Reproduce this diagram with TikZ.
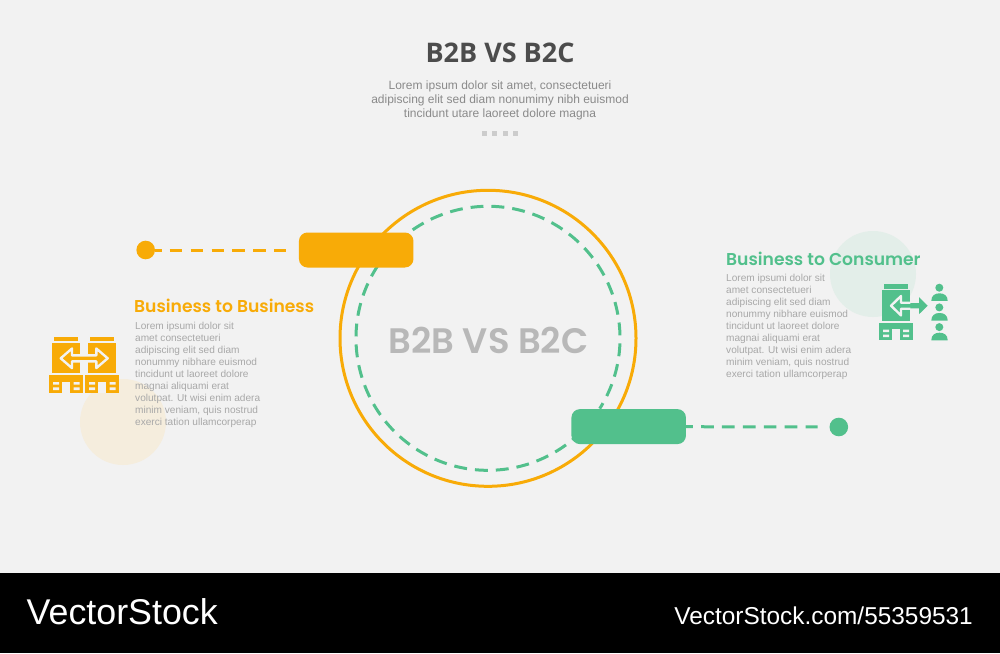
\documentclass[tikz,border=0pt]{standalone}
\usepackage{fontspec}
\setmainfont{Liberation Sans}
\newfontfamily\popp[BoldFont={Poppins SemiBold}]{Poppins}
\newfontfamily\opens{Open Sans}
\definecolor{bgc}{HTML}{F2F2F2}
\definecolor{org}{HTML}{F8AB07}
\definecolor{grn}{HTML}{52C08C}
\definecolor{orgt}{HTML}{F5EDDD}
\definecolor{grnt}{HTML}{E3EEE9}
\definecolor{bodyg}{HTML}{A8A8A8}
\definecolor{parag}{HTML}{8A8A8A}
\tikzset{
  bodytext/.style={inner sep=0pt,anchor=north west,align=left,text=bodyg,font=\fontsize{10.1}{12}\selectfont},
  headtext/.style={inner sep=0pt,anchor=west,font=\popp\bfseries\fontsize{17.15}{18}\selectfont},
  pill/.style={rounded corners=8.5pt,minimum width=114.5pt,minimum height=35pt,inner sep=0pt},
  dotn/.style={circle,inner sep=0pt,minimum size=18.6pt},
  tint/.style={circle,inner sep=0pt,minimum size=86pt},
  linkdash/.style={line width=3pt,dash pattern=on 12.7pt off 8.2pt,dash phase=6.4pt},
  ringdash/.style={line width=3pt,dash pattern=on 12.9pt off 8pt,dash phase=6.96pt},
  wm/.style={inner sep=0pt,text=white}
}
\begin{document}
\begin{tikzpicture}[x=1pt,y=-1pt]
\useasboundingbox (0,0) rectangle (1000,653);
\fill[bgc] (0,0) rectangle (1000,573);
\fill[black] (0,573) rectangle (1000,653);
% title
\node[inner sep=0pt,text=black!70,font=\opens\bfseries\fontsize{27}{30}\selectfont] (title) at (500,53) {B2B VS B2C};
\node[inner sep=0pt,align=center,text=parag,font=\fontsize{12}{14}\selectfont] (para) at (500,100) {Lorem ipsum dolor sit amet, consectetueri\\adipiscing elit sed diam nonumimy nibh euismod\\tincidunt utare laoreet dolore magna};
\foreach \i/\x in {1/484.2,2/494.5,3/505.2,4/515.5}
  \node[fill=black!20,inner sep=0pt,minimum size=5.2pt] (sq\i) at (\x,133.3) {};
% tints
\node[tint,fill=orgt] (torg) at (123,422) {};
\node[tint,fill=grnt] (tgrn) at (873,274) {};
% circles
\coordinate (cc) at (488,338.3);
\node[circle,draw=org,line width=3pt,inner sep=0pt,minimum size=296pt] (outer) at (cc) {};
\draw[grn,ringdash] ([shift={(-32:132pt)}]cc) arc[start angle=-32,delta angle=360,radius=132pt];
\node[inner sep=0pt,text=black!28,font=\popp\bfseries\fontsize{35.4}{38}\selectfont] (center) at (488.5,340) {B2B VS B2C};
% pills, dots, connectors
\node[pill,fill=org] (porg) at (356.2,250) {};
\node[pill,fill=grn] (pgrn) at (628.7,426.6) {};
\node[dotn,fill=org] (dorg) at (145.7,250) {};
\node[dotn,fill=grn] (dgrn) at (838.8,427) {};
\draw[org,linkdash,shorten >=12.7pt] (dorg) -- (porg);
\draw[grn,linkdash,dash phase=6pt,shorten >=11.7pt] (pgrn) -- (dgrn);
% left text
\node[headtext,text=org] (hl) at (134,305.5) {Business to Business};
\node[bodytext] (bl) at (135,321.5) {Lorem ipsumi dolor sit\\amet consectetueri\\adipiscing elit sed diam\\nonummy nibhare euismod\\tincidunt ut laoreet dolore\\magnai aliquami erat\\volutpat. Ut wisi enim adera\\minim veniam, quis nostrud\\exerci tation ullamcorperap};
% right text
\node[headtext,text=grn] (hr) at (726,258.5) {Business to Consumer};
\node[bodytext] (br) at (726,274) {Lorem ipsumi dolor sit\\amet consectetueri\\adipiscing elit sed diam\\nonummy nibhare euismod\\tincidunt ut laoreet dolore\\magnai aliquami erat\\volutpat. Ut wisi enim adera\\minim veniam, quis nostrud\\exerci tation ullamcorperap};
% left icon
\foreach \d in {0,36}{
  \begin{scope}[xshift=\d pt]
  \fill[org] (54,336.7) rectangle (78,341);
  \fill[org] (52,342.7) rectangle (80.3,373.3);
  \fill[org] (49.2,375.3) rectangle (83,392.7);
  \fill[bgc] (62.3,381.5) rectangle (70,392.7);
  \fill[bgc] (53,382) rectangle (59,384.6) (53,387.3) rectangle (59,390);
  \fill[bgc] (73.5,382) rectangle (79.7,384.6) (73.5,387.3) rectangle (79.7,390);
  \end{scope}
}
\draw[bgc,line width=2.4pt,fill=org,line join=round] (60.7,358.3) -- (72,348.5) -- (72,355.3) -- (96.3,355.3) -- (96.3,348.5) -- (107.7,358.3) -- (96.3,368.1) -- (96.3,361.3) -- (72,361.3) -- (72,368.1) -- cycle;
% right icon
\fill[grn] (884.3,284.3) rectangle (908.3,288.7);
\fill[grn] (882,290.3) rectangle (910.3,321);
\fill[grn] (879.3,323) rectangle (913,340);
\fill[bgc] (892,329) rectangle (900,340);
\fill[bgc] (883,329.5) rectangle (889,332.2) (883,334.5) rectangle (889,337.2);
\fill[bgc] (903,329.5) rectangle (909,332.2) (903,334.5) rectangle (909,337.2);
\fill[grn] (910,303) -- (919,303) -- (919,297.2) -- (927.7,305.7) -- (919,314.2) -- (919,308.4) -- (910,308.4) -- cycle;
\draw[bgc,line width=2.4pt,line join=round] (910.3,302.7) -- (901,302.7) -- (901,296) -- (891,305.7) -- (901,315.4) -- (901,308.7) -- (910.3,308.7);
\foreach \dy in {0,19.7,39.4}{
  \fill[grn] (939.3,287.7+\dy) circle (4pt);
  \fill[grn] (931.3,300.9+\dy) .. controls (931.3,295.5+\dy) and (935,293.3+\dy) .. (939.5,293.3+\dy) .. controls (944,293.3+\dy) and (947.7,295.5+\dy) .. (947.7,300.9+\dy) -- cycle;
}
% watermark
\node[wm,anchor=west,font=\fontsize{35.8}{36}\selectfont] (wl) at (26.5,612) {VectorStock};
\node[wm,anchor=east,font=\fontsize{24.4}{26}\selectfont] (wr) at (973,615.5) {VectorStock.com/55359531};
\end{tikzpicture}
\end{document}
